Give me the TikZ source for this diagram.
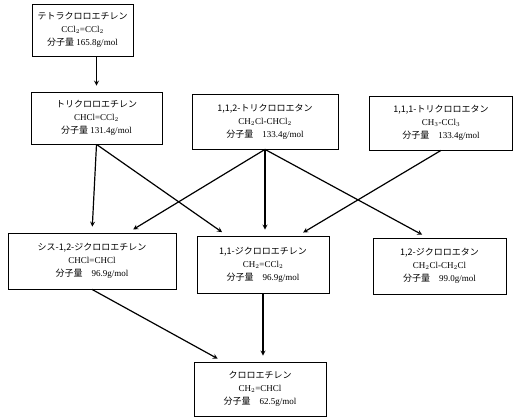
\documentclass[tikz,border=0pt]{standalone}
\usepackage{fontspec}
\setmainfont{Liberation Serif}
\newfontfamily\jp{Noto Sans CJK JP}
\begin{document}
\begin{tikzpicture}[
	x=1pt, y=-1pt,
	chem/.style={draw, line width=0.8pt, align=center, inner sep=0pt, font=\fontsize{9}{13}\selectfont},
	link/.style={->, >=stealth, line width=1.2pt, shorten >=6pt}
	]
	\useasboundingbox (0,0) rectangle (514,416);
	
	% Row 1
	\node[chem, minimum width=101pt, minimum height=52pt] (tce) at (82.5,30)
		{{\jp テトラクロロエチレン}\\ CCl$_2$=CCl$_2$\\ {\jp 分子量}\ 165.8g/mol};
	
	% Row 2
	\node[chem, minimum width=131pt, minimum height=52pt] (tri) at (96.5,118)
		{{\jp トリクロロエチレン}\\ CHCl=CCl$_2$\\ {\jp 分子量}\ 131.4g/mol};
	\node[chem, minimum width=146pt, minimum height=55pt] (tca112) at (265,121.5)
		{{\jp 1,1,2-トリクロロエタン}\\ CH$_2$Cl-CHCl$_2$\\ {\jp 分子量}\quad 133.4g/mol};
	\node[chem, minimum width=143pt, minimum height=54pt] (tca111) at (441,123)
		{{\jp 1,1,1-トリクロロエタン}\\ CH$_3$-CCl$_3$\\ {\jp 分子量}\quad 133.4g/mol};
	
	% Row 3
	\node[chem, minimum width=168pt, minimum height=56pt] (cis) at (92,261)
		{{\jp シス-1,2-ジクロロエチレン}\\ CHCl=CHCl\\ {\jp 分子量}\quad 96.9g/mol};
	\node[chem, minimum width=132pt, minimum height=57pt] (dce11) at (263,264.5)
		{{\jp 1,1-ジクロロエチレン}\\ CH$_2$=CCl$_2$\\ {\jp 分子量}\quad 96.9g/mol};
	\node[chem, minimum width=133pt, minimum height=56pt] (dca12) at (439.5,266)
		{{\jp 1,2-ジクロロエタン}\\ CH$_2$Cl-CH$_2$Cl\\ {\jp 分子量}\quad 99.0g/mol};
	
	% Row 4
	\node[chem, minimum width=132pt, minimum height=54pt] (vc) at (260,389)
		{{\jp クロロエチレン}\\ CH$_2$=CHCl\\ {\jp 分子量}\quad 62.5g/mol};
	
	% Connections
	\draw[link] (tce.south -| tri.north) -- (tri.north);
	\draw[link] (tri.south) -- (cis.north);
	\draw[link] (tri.south) -- ([xshift=-36pt]dce11.north);
	\draw[link] (tca112.south) -- ([xshift=36pt]cis.north);
	\draw[link] (tca112.south) -- (tca112.south |- dce11.north);
	\draw[link] (tca112.south) -- ([xshift=-12pt]dca12.north);
	\draw[link] (tca111.south) -- ([xshift=35pt]dce11.north);
	\draw[link] (cis.south) -- ([xshift=-37pt]vc.north);
	\draw[link] (dce11.south) -- (dce11.south |- vc.north);
	
\end{tikzpicture}
\end{document}
